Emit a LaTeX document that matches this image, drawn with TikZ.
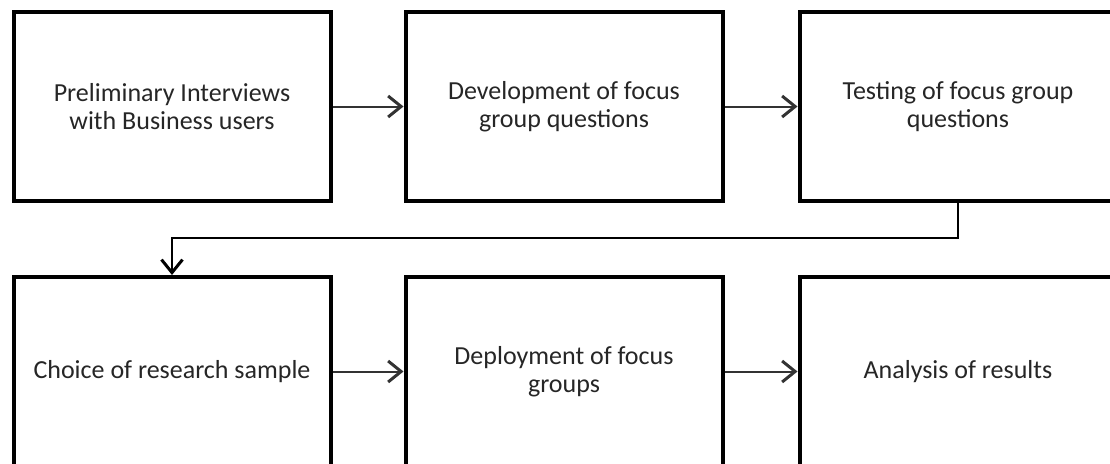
\documentclass[tikz,border=0pt]{standalone}
\usepackage{fontspec}
\setmainfont{Carlito}
\usetikzlibrary{arrows.meta}
\definecolor{textgray}{HTML}{262626}
\begin{document}
\begin{tikzpicture}[x=1pt,y=-1pt,
  stagebox/.style={draw=black,line width=4pt,fill=white,minimum width=317pt,minimum height=189pt,
    inner sep=0pt,align=center,text=textgray,font=\fontsize{26}{27.5}\selectfont},
  flow/.style={draw=black!80,line width=2pt,
    -{Straight Barb[length=13pt,width=21pt,line width=3pt]}}]
\useasboundingbox (0,0) rectangle (1110,463);
\node[stagebox] (prelim)  at (172,106.5) {Preliminary Interviews\\with Business users};
\node[stagebox] (develop) at (564,106.5) {Development of focus\\group questions};
\node[stagebox] (testing) at (958,106.5) {Testing of focus group\\questions};
\node[stagebox] (choice)  at (172,371.5) {Choice of research sample};
\node[stagebox] (deploy)  at (564,371.5) {Deployment of focus\\groups};
\node[stagebox] (analysis) at (958,371.5) {Analysis of results};
\draw[flow] (prelim) -- (develop);
\draw[flow] (develop) -- (testing);
\draw[flow,draw=black] (testing.south) -- ++(0,35) -| (choice.north);
\draw[flow] (choice) -- (deploy);
\draw[flow] (deploy) -- (analysis);
\end{tikzpicture}
\end{document}
